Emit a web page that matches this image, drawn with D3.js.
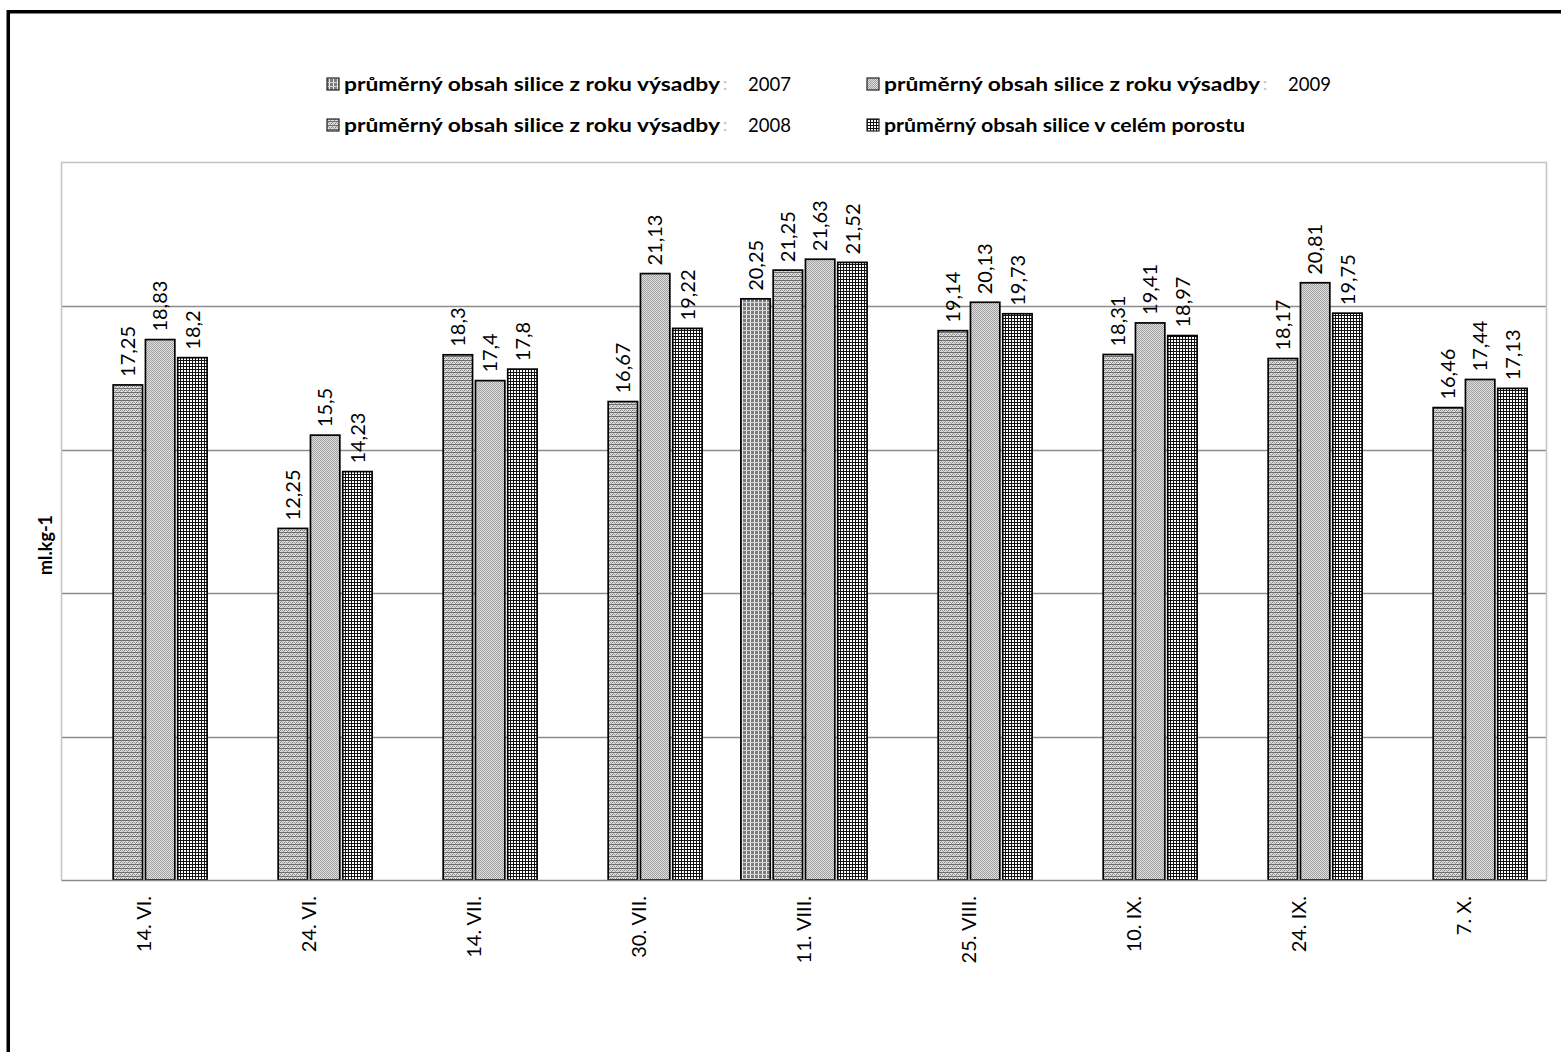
<!DOCTYPE html>
<html>
<head>
<meta charset="utf-8">
<script src="https://cdn.jsdelivr.net/npm/d3@7"></script>
<style>
  html, body { margin: 0; padding: 0; background: #fff; }
  svg { display: block; }
  text { font-family: Lato, "Open Sans", sans-serif; }
</style>
</head>
<body>
<svg id="chart" width="1561" height="1052"></svg>
<script>
// Odběrové termíny
const categories = ["14. VI.", "24. VI.", "14. VII.", "30. VII.", "11. VIII.", "25. VIII.", "10. IX.", "24. IX.", "7. X."];

// Obsah silice (ml.kg-1) podle roku výsadby
const vals2007 = [null, null, null, null, 20.25, null, null, null, null];
const vals2008 = [17.25, 12.25, 18.3, 16.67, 21.25, 19.14, 18.31, 18.17, 16.46];
const vals2009 = [18.83, 15.5, 17.4, 21.13, 21.63, 20.13, 19.41, 20.81, 17.44];
const valsAll  = [18.2, 14.23, 17.8, 19.22, 21.52, 19.73, 18.97, 19.75, 17.13];

const seriesNames = [
  { label: "průměrný obsah silice z roku výsadby", year: "2007" },
  { label: "průměrný obsah silice z roku výsadby", year: "2008" },
  { label: "průměrný obsah silice z roku výsadby", year: "2009" },
  { label: "průměrný obsah silice v celém porostu", year: "" }
];
const yTicks = [0, 5, 10, 15, 20, 25];
const axisTitle = "ml.kg-1";

const seriesValues = [vals2007, vals2008, vals2009, valsAll];
const patternIds = ["p2007", "p2008", "p2009", "pAll"];

const svg = d3.select("#chart");
const defs = svg.append("defs");

// Výplňové vzory sloupců
function makePattern(id, w, h, draw) {
  const p = defs.append("pattern").attr("id", id)
    .attr("patternUnits", "userSpaceOnUse").attr("width", w).attr("height", h);
  draw(p);
}
makePattern("p2007", 4, 4, p => {
  p.append("rect").attr("width", 4).attr("height", 4).attr("fill", "#7c7c7c");
  p.append("rect").attr("x", 2).attr("width", 1).attr("height", 4).attr("fill", "#f0f0f0");
  p.append("rect").attr("y", 2).attr("width", 4).attr("height", 1).attr("fill", "#d4d4d4");
});
makePattern("p2008", 4, 4, p => {
  p.append("rect").attr("width", 4).attr("height", 4).attr("fill", "#dcdcdc");
  p.append("rect").attr("y", 0).attr("width", 4).attr("height", 1).attr("fill", "#6e6e6e");
  p.append("rect").attr("x", 0).attr("y", 2).attr("width", 1).attr("height", 1).attr("fill", "#7a7a7a");
  p.append("rect").attr("x", 2).attr("y", 2).attr("width", 1).attr("height", 1).attr("fill", "#9a9a9a");
  p.append("rect").attr("x", 1).attr("y", 1).attr("width", 1).attr("height", 1).attr("fill", "#a0a0a0");
  p.append("rect").attr("x", 3).attr("y", 3).attr("width", 1).attr("height", 1).attr("fill", "#a0a0a0");
});
makePattern("p2009", 2, 2, p => {
  p.append("rect").attr("width", 2).attr("height", 2).attr("fill", "#e0e0e0");
  p.append("rect").attr("width", 1).attr("height", 1).attr("fill", "#a0a0a0");
  p.append("rect").attr("x", 1).attr("y", 1).attr("width", 1).attr("height", 1).attr("fill", "#a0a0a0");
});
makePattern("pAll", 3, 3, p => {
  p.append("rect").attr("width", 3).attr("height", 3).attr("fill", "#ffffff");
  p.append("rect").attr("width", 1).attr("height", 3).attr("fill", "#111");
  p.append("rect").attr("width", 3).attr("height", 1).attr("fill", "#111");
});

// Vnější rámeček
svg.append("rect").attr("x", 7).attr("y", 10).attr("width", 1554).attr("height", 3.5).attr("fill", "#000");
svg.append("rect").attr("x", 6.5).attr("y", 10).attr("width", 3.5).attr("height", 1042).attr("fill", "#000");

// Oblast grafu
const plot = { left: 61.5, right: 1546.5, top: 162.5, bottom: 880 };

const x0 = d3.scaleBand().domain(categories).range([plot.left, plot.right]).paddingInner(0).paddingOuter(0);
const x1 = d3.scaleBand().domain(d3.range(4)).range([16.5, x0.bandwidth() - 16.5]).padding(0.09);
const y = d3.scaleLinear().domain([0, 25]).range([plot.bottom, plot.top]);

// Mřížka
svg.append("g").selectAll("line").data(yTicks.filter(t => t > 0 && t < 25)).join("line")
  .attr("x1", plot.left).attr("x2", plot.right)
  .attr("y1", d => Math.round(y(d)) + 0.5).attr("y2", d => Math.round(y(d)) + 0.5)
  .attr("stroke", "#8c8c8c").attr("stroke-width", 1.3);

// Rámeček oblasti grafu
svg.append("path")
  .attr("d", `M${plot.left},${plot.bottom} V${plot.top} H${plot.right} V${plot.bottom}`)
  .attr("fill", "none").attr("stroke", "#c4c4c4").attr("stroke-width", 1.5);

// Sloupce
const bars = [];
categories.forEach((c, i) => {
  seriesValues.forEach((vals, s) => {
    if (vals[i] != null) bars.push({ cat: c, s, v: vals[i] });
  });
});

svg.append("g").selectAll("rect").data(bars).join("rect")
  .attr("x", d => x0(d.cat) + x1(d.s))
  .attr("y", d => y(d.v))
  .attr("width", x1.bandwidth())
  .attr("height", d => plot.bottom - y(d.v))
  .attr("fill", d => `url(#${patternIds[d.s]})`)
  .attr("stroke", "#000").attr("stroke-width", 1.7);

// Osa x (základní čára)
svg.append("line").attr("x1", plot.left).attr("x2", plot.right)
  .attr("y1", plot.bottom + 0.5).attr("y2", plot.bottom + 0.5)
  .attr("stroke", "#8c8c8c").attr("stroke-width", 1.5);

// Popisky hodnot
const fmt = v => String(v).replace(".", ",");
svg.append("g").selectAll("text").data(bars).join("text")
  .attr("transform", d => `translate(${x0(d.cat) + x1(d.s) + x1.bandwidth() / 2},${y(d.v) - 8}) rotate(-90)`)
  .attr("dy", "0.36em")
  .attr("font-size", 20)
  .attr("fill", "#000")
  .text(d => fmt(d.v));

// Popisky kategorií
svg.append("g").selectAll("text").data(categories).join("text")
  .attr("transform", d => `translate(${x0(d) + x0.bandwidth() / 2},${plot.bottom + 16}) rotate(-90)`)
  .attr("text-anchor", "end")
  .attr("dy", "0.36em")
  .attr("font-size", 20)
  .attr("fill", "#000")
  .text(d => d);

// Název osy y
svg.append("text")
  .attr("transform", `translate(46,545) rotate(-90)`)
  .attr("text-anchor", "middle")
  .attr("dy", "0.36em")
  .attr("font-size", 18)
  .attr("font-weight", "bold")
  .text(axisTitle);

// Legenda
const legendPos = [
  { x: 327, y: 84 }, { x: 327, y: 125 }, { x: 867, y: 84 }, { x: 867, y: 125 }
];
const lg = svg.append("g").selectAll("g").data(seriesNames).join("g")
  .attr("transform", (d, i) => `translate(${legendPos[i].x},${legendPos[i].y})`);
lg.append("rect").attr("x", 0).attr("y", -6).attr("width", 12).attr("height", 12)
  .attr("fill", (d, i) => `url(#${patternIds[i]})`).attr("stroke", "#222").attr("stroke-width", 1.2);
lg.append("text").attr("x", 17).attr("dy", "0.36em")
  .attr("font-size", 18.5).attr("font-weight", "bold")
  .attr("textLength", d => d.year ? 376 : 361).attr("lengthAdjust", "spacingAndGlyphs")
  .text(d => d.label);
lg.filter(d => d.year).append("text").attr("x", 396).attr("dy", "0.36em")
  .attr("font-size", 17).attr("fill", "#bbb").text(":");
lg.filter(d => d.year).append("text").attr("x", 421).attr("dy", "0.36em")
  .attr("font-size", 18.5).text(d => d.year);
</script>
</body>
</html>
